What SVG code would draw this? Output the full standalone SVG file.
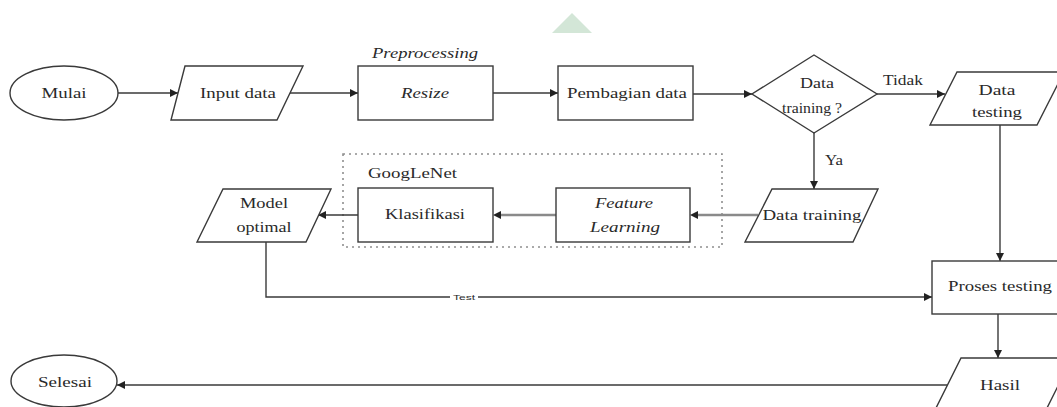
<svg xmlns="http://www.w3.org/2000/svg" width="1057" height="407" viewBox="0 0 1057 407">
<style>
.shape{fill:#fff;stroke:#3a3a3a;stroke-width:1.4}
.t{font-family:"Liberation Serif","Times New Roman",serif;font-size:15px;fill:#2a2a2a;text-anchor:middle;dominant-baseline:central}
.i{font-style:italic}
.ln{fill:none;stroke:#3a3a3a;stroke-width:1.4}
.lg{fill:none;stroke:#8a8a8a;stroke-width:2.6}
.dot{fill:none;stroke:#8f8f8f;stroke-width:1.6;stroke-dasharray:2 4}
</style>
<defs>
<marker id="ah" viewBox="0 0 10 10" refX="10" refY="5" markerWidth="8" markerHeight="8" markerUnits="userSpaceOnUse" orient="auto">
<path d="M0,0 L10,5 L0,10 z" fill="#222"/>
</marker>
</defs>
<rect width="1057" height="407" fill="#fff"/>
<polygon points="572,13 592,33 552,33" fill="#d3e6d7"/>

<g id="googlenet-group">
<rect class="dot" x="343" y="154" width="379" height="93"/>
<text class="t" x="368" y="173" style="text-anchor:start" textLength="89" lengthAdjust="spacingAndGlyphs">GoogLeNet</text>
</g>

<g id="connectors">
<path class="ln" d="M118,93 H178" marker-end="url(#ah)"/>
<path class="ln" d="M290,93 H358" marker-end="url(#ah)"/>
<path class="ln" d="M493,93 H558" marker-end="url(#ah)"/>
<path class="ln" d="M693,94 H752" marker-end="url(#ah)"/>
<path class="ln" d="M877,94 H945" marker-end="url(#ah)"/>
<text class="t" x="903" y="80" textLength="40" lengthAdjust="spacingAndGlyphs">Tidak</text>
<path class="ln" d="M814,133 V189" marker-end="url(#ah)"/>
<text class="t" x="834" y="160" textLength="18" lengthAdjust="spacingAndGlyphs">Ya</text>
<path class="lg" d="M758,215 H694"/>
<path d="M690,215 l8,-4 v8 z" fill="#222"/>
<path class="lg" d="M556,215 H497"/>
<path d="M493,215 l8,-4 v8 z" fill="#222"/>
<path class="ln" d="M358,215 H318" marker-end="url(#ah)"/>
<path class="ln" d="M1000,125 V261" marker-end="url(#ah)"/>
<path class="ln" d="M266,242 V297 H932" marker-end="url(#ah)"/>
<rect x="450" y="292" width="28" height="10" fill="#fff"/>
<text class="t" x="464" y="297" style="font-size:8px;font-family:'Liberation Sans',Arial,sans-serif" textLength="22" lengthAdjust="spacingAndGlyphs">Test</text>
<path class="ln" d="M998,314 V358" marker-end="url(#ah)"/>
<path class="ln" d="M947,385 H117" marker-end="url(#ah)"/>
</g>

<g id="mulai">
<ellipse class="shape" cx="64" cy="93" rx="54" ry="27"/>
<text class="t" x="64" y="93" textLength="45" lengthAdjust="spacingAndGlyphs">Mulai</text>
</g>
<g id="input-data">
<polygon class="shape" points="185,66 303,66 277,120 171,120"/>
<text class="t" x="238" y="93" textLength="76" lengthAdjust="spacingAndGlyphs">Input data</text>
</g>
<g id="resize">
<text class="t i" x="425" y="53" textLength="106" lengthAdjust="spacingAndGlyphs">Preprocessing</text>
<rect class="shape" x="358" y="66" width="135" height="54"/>
<text class="t i" x="425" y="93" textLength="48" lengthAdjust="spacingAndGlyphs">Resize</text>
</g>
<g id="pembagian-data">
<rect class="shape" x="558" y="66" width="135" height="54"/>
<text class="t" x="627" y="93" textLength="120" lengthAdjust="spacingAndGlyphs">Pembagian data</text>
</g>
<g id="decision">
<polygon class="shape" points="814,55 877,94 814,133 752,94"/>
<text class="t" x="817" y="83" textLength="34" lengthAdjust="spacingAndGlyphs">Data</text>
<text class="t" x="812" y="108" textLength="60" lengthAdjust="spacingAndGlyphs">training ?</text>
</g>
<g id="data-testing">
<polygon class="shape" points="957,72 1064,72 1037,125 930,125"/>
<text class="t" x="997" y="90" textLength="37" lengthAdjust="spacingAndGlyphs">Data</text>
<text class="t" x="997" y="112" textLength="50" lengthAdjust="spacingAndGlyphs">testing</text>
</g>
<g id="data-training">
<polygon class="shape" points="772,189 878,189 853,242 745,242"/>
<text class="t" x="812" y="215" textLength="99" lengthAdjust="spacingAndGlyphs">Data training</text>
</g>
<g id="feature-learning">
<rect class="shape" x="556" y="188" width="134" height="54"/>
<text class="t i" x="624" y="203" textLength="58" lengthAdjust="spacingAndGlyphs">Feature</text>
<text class="t i" x="625" y="227" textLength="70" lengthAdjust="spacingAndGlyphs">Learning</text>
</g>
<g id="klasifikasi">
<rect class="shape" x="358" y="188" width="135" height="54"/>
<text class="t" x="425" y="214" textLength="80" lengthAdjust="spacingAndGlyphs">Klasifikasi</text>
</g>
<g id="model-optimal">
<polygon class="shape" points="223,189 331,189 306,242 197,242"/>
<text class="t" x="264" y="203" textLength="48" lengthAdjust="spacingAndGlyphs">Model</text>
<text class="t" x="264" y="227" textLength="55" lengthAdjust="spacingAndGlyphs">optimal</text>
</g>
<g id="proses-testing">
<rect class="shape" x="932" y="261" width="130" height="53"/>
<text class="t" x="1000" y="286" textLength="104" lengthAdjust="spacingAndGlyphs">Proses testing</text>
</g>
<g id="hasil">
<polygon class="shape" points="961,358 1072,358 1042,418 931,418"/>
<text class="t" x="1000" y="385" textLength="40" lengthAdjust="spacingAndGlyphs">Hasil</text>
</g>
<g id="selesai">
<ellipse class="shape" cx="64" cy="381" rx="53" ry="26"/>
<text class="t" x="65" y="382" textLength="54" lengthAdjust="spacingAndGlyphs">Selesai</text>
</g>
</svg>
